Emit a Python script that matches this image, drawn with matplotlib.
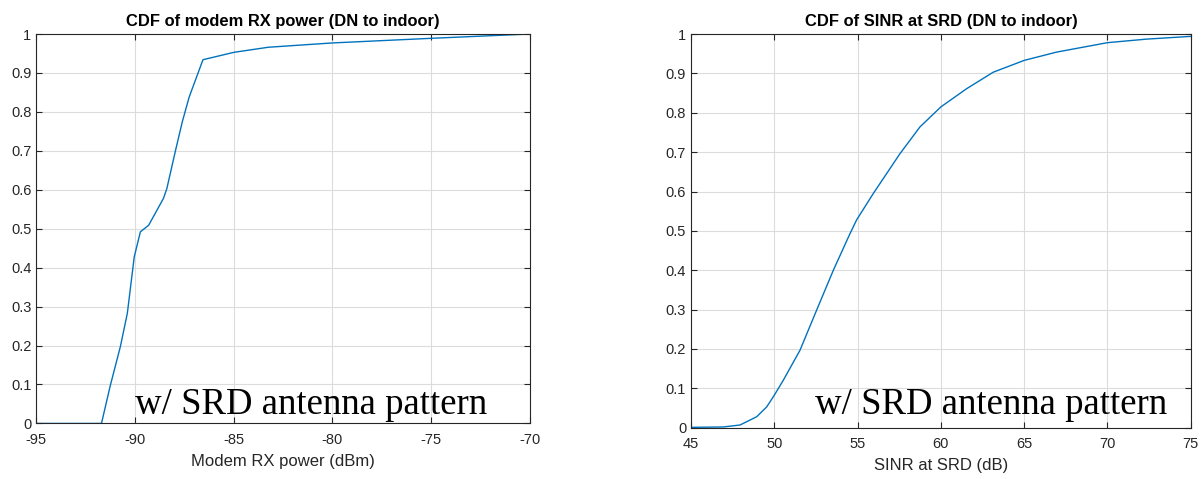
import matplotlib
matplotlib.use("Agg")
import matplotlib.pyplot as plt
from matplotlib.ticker import FuncFormatter

plt.rcParams["font.family"] = ["Liberation Sans", "DejaVu Sans"]
plt.rcParams["axes.unicode_minus"] = False

# left panel: modem RX power CDF
rx_power = [-95, -91.69, -91.25, -90.73, -90.38, -90.03, -89.72, -89.30, -88.55,
            -88.38, -87.94, -87.60, -87.25, -86.55, -84.98, -83.24, -80.02, -74.97, -70]
rx_cdf = [0, 0, 0.096, 0.198, 0.283, 0.428, 0.492, 0.509, 0.578,
          0.603, 0.701, 0.774, 0.838, 0.934, 0.953, 0.966, 0.977, 0.989, 1.0]

# right panel: SINR CDF
sinr = [45, 46.94, 47.94, 48.94, 49.54, 50.0, 50.54, 51.54, 52.54, 53.54, 54.54,
        54.94, 55.94, 57.54, 58.74, 60.0, 61.54, 63.14, 65.0, 66.94, 70.0, 72.34, 75]
sinr_cdf = [0.001, 0.002, 0.007, 0.028, 0.053, 0.083, 0.121, 0.197, 0.299, 0.400, 0.493,
            0.528, 0.595, 0.696, 0.764, 0.815, 0.861, 0.903, 0.933, 0.954, 0.978, 0.987, 0.994]

y_ticks = [0, 0.1, 0.2, 0.3, 0.4, 0.5, 0.6, 0.7, 0.8, 0.9, 1]
dark = "#262626"
blue = "#0072BD"

fig = plt.figure(figsize=(12.04, 4.79), dpi=100)
ax1 = fig.add_axes([0.030, 0.116, 0.410, 0.813])
ax2 = fig.add_axes([0.574, 0.107, 0.415, 0.822])

def style(ax, xlim, xticks, xlabel, title):
    ax.set_xlim(xlim)
    ax.set_ylim(0, 1)
    ax.set_xticks(xticks)
    ax.set_yticks(y_ticks)
    ax.yaxis.set_major_formatter(FuncFormatter(lambda v, p: "%g" % v))
    ax.grid(True, color="#dcdcdc", linewidth=0.8)
    ax.set_axisbelow(True)
    ax.tick_params(direction="in", top=True, right=True, length=4, width=0.8,
                   colors=dark, labelsize=10.5)
    ax.tick_params(axis="x", pad=7)
    for s in ax.spines.values():
        s.set_color(dark)
        s.set_linewidth(0.8)
    ax.set_xlabel(xlabel, fontsize=12, color=dark, labelpad=5)
    ax.set_title(title, fontsize=11.9, fontweight="bold", color="black", pad=6)

ax1.plot(rx_power, rx_cdf, color=blue, linewidth=1)
style(ax1, (-95, -70), [-95, -90, -85, -80, -75, -70], "Modem RX power (dBm)",
      "CDF of modem RX power (DN to indoor)")
ax1.text(0.200, 0.025, "w/ SRD antenna pattern", transform=ax1.transAxes,
         family="Liberation Serif", fontsize=26.5, color="black")

ax2.plot(sinr, sinr_cdf, color=blue, linewidth=1)
style(ax2, (45, 75), [45, 50, 55, 60, 65, 70, 75], "SINR at SRD (dB)",
      "CDF of SINR at SRD (DN to indoor)")
ax2.text(0.248, 0.035, "w/ SRD antenna pattern", transform=ax2.transAxes,
         family="Liberation Serif", fontsize=26.5, color="black")

fig.savefig("out.png", dpi=100)
